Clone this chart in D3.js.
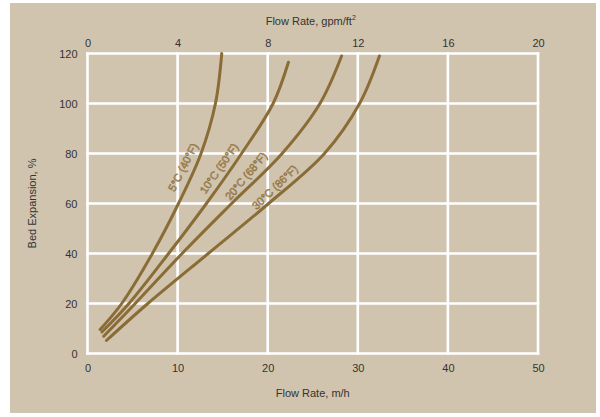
<!DOCTYPE html>
<html>
<head>
<meta charset="utf-8">
<script src="https://cdn.jsdelivr.net/npm/d3@7"></script>
<style>
  html, body { margin: 0; padding: 0; background: #ffffff; }
  svg { display: block; font-family: "Liberation Sans", Arial, Helvetica, sans-serif; }
</style>
</head>
<body>
<svg id="chart" width="600" height="417"></svg>
<script>
// ---- data (flow rate m/h, bed expansion %) ----
const seriesNames = ["5°C (40°F)", "10°C (50°F)", "20°C (68°F)", "30°C (86°F)"];
const curve5C  = [[1.4, 9.6], [3.8, 20], [7.2, 40], [10.1, 60], [12.6, 80], [14.2, 100], [14.9, 120]];
const curve10C = [[1.6, 8.6], [4.6, 20], [9.0, 40], [13.2, 60], [17.1, 80], [20.6, 100], [22.3, 116.5]];
const curve20C = [[1.8, 6.9], [5.3, 20], [10.5, 40], [16.0, 60], [21.6, 80], [25.8, 100], [28.2, 119]];
const curve30C = [[2.1, 5.2], [6.7, 20], [13.4, 40], [20.1, 60], [26.3, 80], [30.2, 100], [32.4, 119]];
const seriesData = [curve5C, curve10C, curve20C, curve30C];
// label anchor (m/h, %) and rotation
const labelPos = [[10.6, 74.5], [14.6, 74], [17.6, 71], [20.8, 66.5]];
const labelAngle = [-63, -55, -50, -44];

const bottomTicks = [0, 10, 20, 30, 40, 50];
const topTicks = [0, 4, 8, 12, 16, 20];
const yTicks = [0, 20, 40, 60, 80, 100, 120];

// ---- layout ----
const svg = d3.select("#chart");
const plot = { left: 87.5, right: 538, top: 53.5, bottom: 353.5 };

svg.append("rect").attr("x", 10).attr("y", 3).attr("width", 586).attr("height", 410)
  .attr("fill", "#d1c4af");

const x = d3.scaleLinear().domain([0, 50]).range([plot.left, plot.right]);
const xTop = d3.scaleLinear().domain([0, 20]).range([plot.left, plot.right]);
const y = d3.scaleLinear().domain([0, 120]).range([plot.bottom, plot.top]);

// grid
const grid = svg.append("g").attr("stroke", "#ffffff").attr("stroke-width", 2.6);
grid.selectAll("line.v").data(bottomTicks).enter().append("line")
  .attr("x1", d => x(d)).attr("x2", d => x(d))
  .attr("y1", plot.top - 1.3).attr("y2", plot.bottom + 1.3);
grid.selectAll("line.h").data(yTicks).enter().append("line")
  .attr("y1", d => y(d)).attr("y2", d => y(d))
  .attr("x1", plot.left - 1.3).attr("x2", plot.right + 1.3);

// axes (labels only, no domain/ticks)
const textColor = "#333333";
const bottomAxis = svg.append("g").attr("transform", `translate(0,${plot.bottom})`)
  .call(d3.axisBottom(x).tickValues(bottomTicks).tickSize(0).tickPadding(11).tickFormat(d3.format("d")));
const topAxis = svg.append("g").attr("transform", `translate(0,${plot.top})`)
  .call(d3.axisTop(xTop).tickValues(topTicks).tickSize(0).tickPadding(7).tickFormat(d3.format("d")));
const leftAxis = svg.append("g").attr("transform", `translate(${plot.left},0)`)
  .call(d3.axisLeft(y).tickValues(yTicks).tickSize(0).tickPadding(10).tickFormat(d3.format("d")));
[bottomAxis, topAxis, leftAxis].forEach(g => {
  g.select(".domain").remove();
  g.selectAll("text").attr("fill", textColor).style("font-size", "11px")
    .style("font-family", '"Liberation Sans", Arial, sans-serif');
});

// axis titles
svg.append("text").attr("x", (plot.left + plot.right) / 2).attr("y", 397)
  .attr("text-anchor", "middle").attr("fill", textColor).style("font-size", "11px")
  .text("Flow Rate, m/h");
const tt = svg.append("text").attr("x", (plot.left + plot.right) / 2 - 2).attr("y", 25)
  .attr("text-anchor", "middle").attr("fill", textColor).style("font-size", "11px");
tt.append("tspan").text("Flow Rate, gpm/ft");
tt.append("tspan").attr("dy", -5).style("font-size", "7px").text("2");
svg.append("text").attr("transform", `translate(36,${(plot.top + plot.bottom) / 2}) rotate(-90)`)
  .attr("text-anchor", "middle").attr("fill", textColor).style("font-size", "11px")
  .text("Bed Expansion, %");

// curves
const line = d3.line().x(d => x(d[0])).y(d => y(d[1])).curve(d3.curveCatmullRom.alpha(0.5));
svg.append("g").selectAll("path").data(seriesData).enter().append("path")
  .attr("d", line).attr("fill", "none").attr("stroke", "#8a6c36")
  .attr("stroke-width", 3).attr("stroke-linecap", "round");

// curve labels
svg.append("g").selectAll("text").data(seriesNames).enter().append("text")
  .attr("transform", (d, i) => `translate(${x(labelPos[i][0])},${y(labelPos[i][1])}) rotate(${labelAngle[i]})`)
  .attr("text-anchor", "middle").attr("dy", "0.35em")
  .attr("fill", "#b9a680").attr("stroke", "#8a6c36").attr("stroke-width", 0.5)
  .style("font-size", "11px")
  .text(d => d);
</script>
</body>
</html>
